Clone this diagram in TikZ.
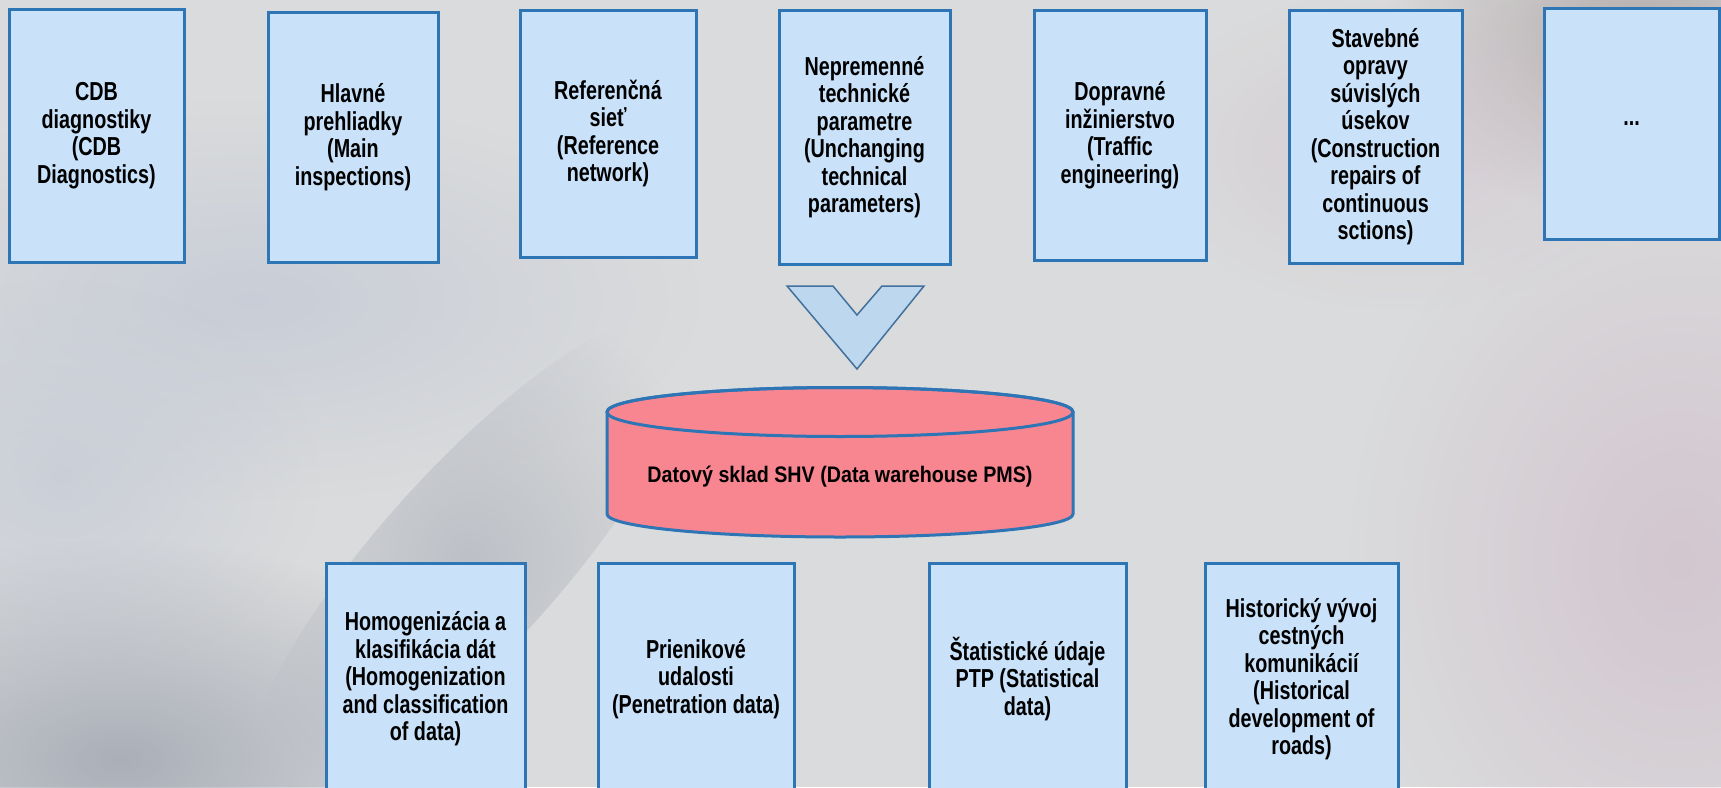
\documentclass[tikz,border=0pt]{standalone}
\usepackage{fontspec}
\setmainfont{Liberation Sans}[FakeStretch=0.76]
\newfontfamily\cylfont{Liberation Sans}[FakeStretch=0.875]
\usetikzlibrary{fadings}
\tikzfading[name=softblob, inner color=transparent!0, outer color=transparent!100]
\definecolor{bgbase}{RGB}{218,219,220}
\definecolor{boxfill}{RGB}{201,226,250}
\definecolor{boxline}{RGB}{46,117,182}
\definecolor{chevfill}{RGB}{189,215,238}
\definecolor{chevline}{RGB}{65,113,156}
\definecolor{cylred}{RGB}{248,134,144}
\definecolor{blobdark}{RGB}{165,170,180}
\definecolor{blobblue}{RGB}{196,202,214}
\definecolor{blobpink}{RGB}{210,196,206}
\definecolor{blobbrown}{RGB}{170,160,160}
\tikzset{
  srcbox/.style={draw=boxline, line width=3pt, fill=boxfill, rectangle,
    align=center, inner sep=2pt,
    font=\fontsize{26pt}{27.5pt}\selectfont\bfseries},
  blob/.style={path fading=softblob}
}
\newcommand{\mybox}[7]{%
  \node[srcbox, minimum width=#4-#2, minimum height=#5-#3]
    (#1) at ({(#2+#4)/2},{(#3+#5)/2}) {#6};}
\begin{document}
\begin{tikzpicture}[x=1pt,y=-1pt]
\useasboundingbox (0,0) rectangle (1721,787);
\begin{scope}
\clip (0,0) rectangle (1721,787);
\fill[bgbase] (0,0) rectangle (1721,787);
\fill[blobblue, blob, opacity=0.8] (250,300) ellipse [x radius=450, y radius=200];
\fill[blobblue, blob, opacity=0.7] (60,480) ellipse [x radius=260, y radius=200];
\fill[blobdark, blob, opacity=0.9] (120,760) ellipse [x radius=400, y radius=220];
\fill[blobdark, blob, opacity=0.55, rotate around={48:(470,560)}] (470,560) ellipse [x radius=320, y radius=90];
\fill[blobpink, blob, opacity=0.9] (1680,560) ellipse [x radius=330, y radius=400];
\fill[blobbrown, blob, opacity=0.8] (1640,40) ellipse [x radius=260, y radius=180];
\fill[blobpink, blob, opacity=0.6] (1400,150) ellipse [x radius=260, y radius=160];
\end{scope}

\mybox{t1}{9}{9}{184}{262}{CDB\\diagnostiky\\(CDB\\Diagnostics)}{}
\mybox{t2}{268}{12}{438}{262}{Hlavné\\prehliadky\\(Main\\inspections)}{}
\mybox{t3}{520}{10}{696}{257}{Referenčná\\sieť\\(Reference\\network)}{}
\mybox{t4}{779}{10}{950}{264}{Nepremenné\\technické\\parametre\\(Unchanging\\technical\\parameters)}{}
\mybox{t5}{1034}{10}{1206}{260}{Dopravné\\inžinierstvo\\(Traffic\\engineering)}{}
\mybox{t6}{1289}{10}{1462}{263}{Stavebné\\opravy\\súvislých\\úsekov\\(Construction\\repairs of\\continuous\\sctions)}{}
\mybox{t7}{1544}{8}{1719}{239}{...}{}

\filldraw[fill=chevfill, draw=chevline, line width=1.5pt, line join=miter]
  (787,286) -- (833,286) -- (857,315) -- (882,286) -- (924,286) -- (857,369) -- cycle;

\filldraw[fill=cylred, draw=boxline, line width=3pt]
  (607,412) -- (607,514) arc[start angle=180, end angle=0, x radius=233, y radius=23]
  -- (1073,412) arc[start angle=0, end angle=-180, x radius=233, y radius=24.5] -- cycle;
\draw[boxline, line width=3pt] (840,412) ellipse [x radius=233, y radius=24.5];
\node (dw) at (840,477) {\fontsize{22.5pt}{26pt}\selectfont\cylfont\bfseries Datový sklad SHV (Data warehouse PMS)};

\mybox{b1}{326}{563}{525}{795}{Homogenizácia a\\klasifikácia dát\\(Homogenization\\and classification\\of data)}{}
\mybox{b2}{598}{563}{794}{795}{Prienikové\\udalosti\\(Penetration data)}{}
\mybox{b3}{929}{563}{1126}{795}{Štatistické údaje\\PTP (Statistical\\data)}{}
\mybox{b4}{1205}{563}{1398}{795}{Historický vývoj\\cestných\\komunikácií\\(Historical\\development of\\roads)}{}
\end{tikzpicture}
\end{document}
